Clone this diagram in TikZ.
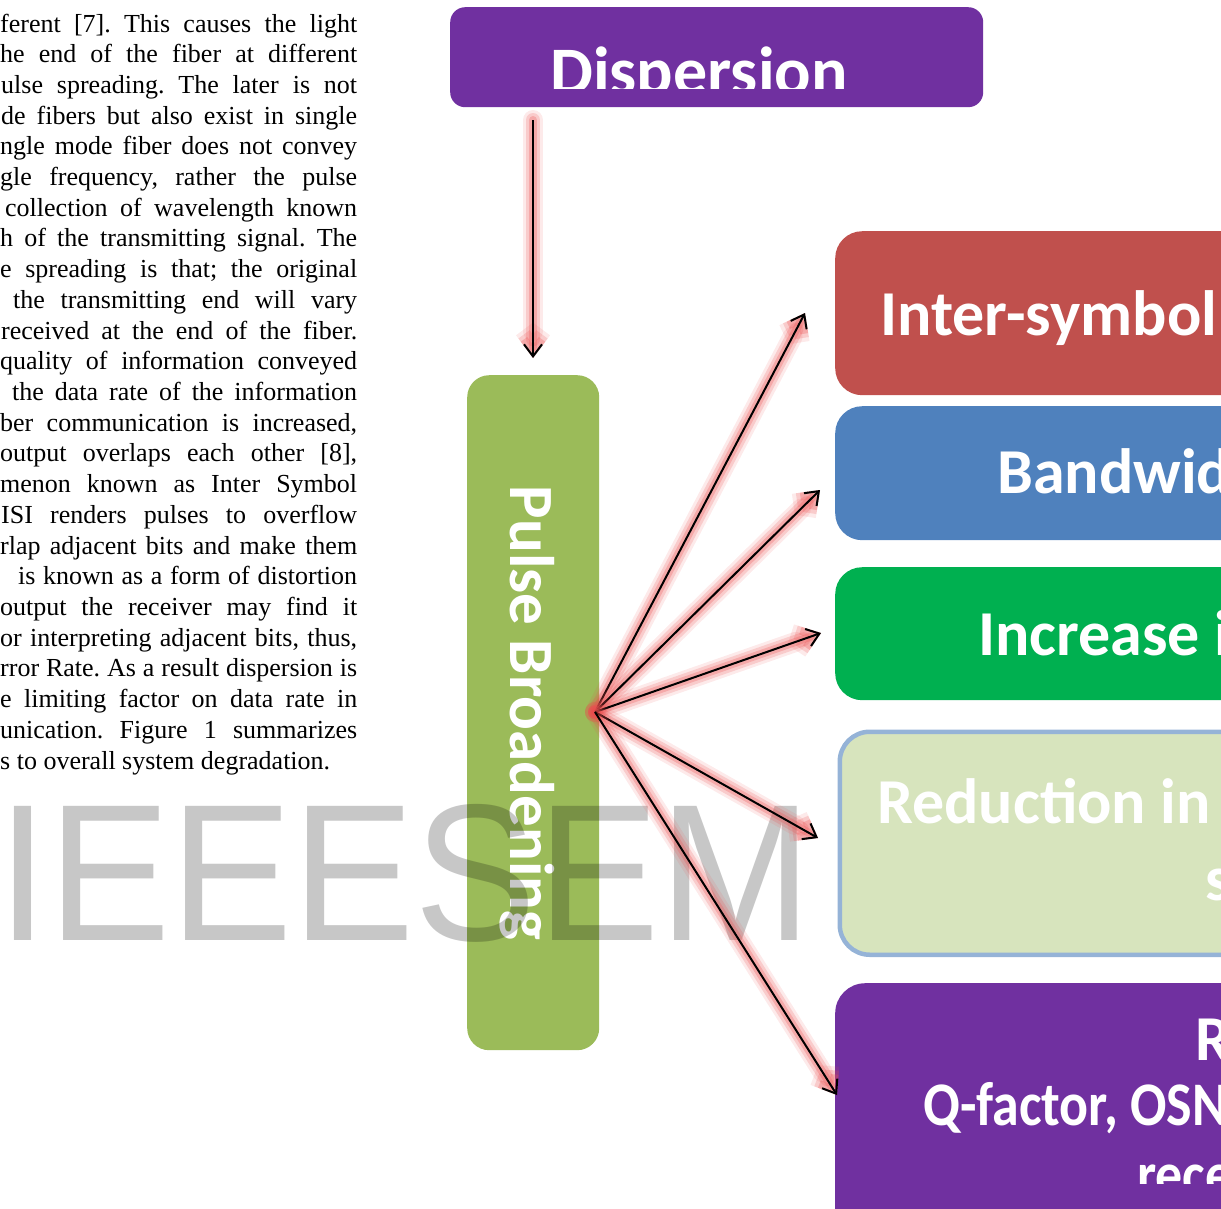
\documentclass[tikz,border=0pt]{standalone}
\usepackage{fontspec}
\setmainfont{Liberation Serif}
\newfontfamily\boxfont{Carlito}
\newfontfamily\wmfont{Liberation Sans}
\usetikzlibrary{arrows.meta}
\definecolor{dispc}{RGB}{112,48,160}
\definecolor{pulsec}{RGB}{155,187,89}
\definecolor{isic}{RGB}{192,80,77}
\definecolor{bwc}{RGB}{79,129,189}
\definecolor{incc}{RGB}{0,176,80}
\definecolor{redc}{RGB}{215,228,189}
\definecolor{redbord}{RGB}{149,179,215}
\definecolor{glowc}{RGB}{235,80,80}
\frenchspacing
\newcommand\bodyline[4]{\node[body] (#1) at (#2,{32+30.71*#3}) {\makebox[\dimexpr357pt-#2pt\relax][s]{#4}};}
\begin{document}
\begin{tikzpicture}[x=1pt,y=-1pt,
  body/.style={anchor=base west, inner sep=0pt, font=\fontsize{26}{30.7}\selectfont},
  boxshape/.style={anchor=north west, inner sep=0pt, draw=none},
  boxtext/.style={text=white, inner sep=0pt, anchor=base west, font=\boxfont\bfseries\fontsize{64}{70}\selectfont},
  glow/.style={
    preaction={draw=glowc, line width=20pt, opacity=0.12, line cap=round, line join=round},
    preaction={draw=glowc, line width=14pt, opacity=0.20, line cap=round, line join=round},
    preaction={draw=glowc, line width=8pt, opacity=0.28, line cap=round, line join=round}},
  arr/.style={glow, draw=black, line width=2pt, -{Straight Barb[length=12pt,width=18pt]}},
  wm/.style={anchor=base west, inner sep=0pt, text=black, text opacity=0.22, font=\wmfont\fontsize{195}{200}\selectfont}
]
\useasboundingbox (0,0) rectangle (1221,1208);
\clip (0,0) rectangle (1221,1208);

% body text
\bodyline{l1}{0}{0}{ferent [7]. This causes the light}
\bodyline{l2}{0}{1}{he end of the fiber at different}
\bodyline{l3}{1}{2}{ulse spreading. The later is not}
\bodyline{l4}{1}{3}{de fibers but also exist in single}
\bodyline{l5}{0}{4}{ngle mode fiber does not convey}
\bodyline{l6}{0}{5}{gle frequency, rather the pulse}
\bodyline{l7}{5}{6}{collection of wavelength known}
\bodyline{l8}{0}{7}{h of the transmitting signal. The}
\bodyline{l9}{0}{8}{e spreading is that; the original}
\bodyline{l10}{13}{9}{the transmitting end will vary}
\bodyline{l11}{1}{10}{received at the end of the fiber.}
\bodyline{l12}{0}{11}{quality of information conveyed}
\bodyline{l13}{12}{12}{the data rate of the information}
\bodyline{l14}{0}{13}{ber communication is increased,}
\bodyline{l15}{0}{14}{output overlaps each other [8],}
\bodyline{l16}{0}{15}{menon known as Inter Symbol}
\bodyline{l17}{1}{16}{ISI renders pulses to overflow}
\bodyline{l18}{0}{17}{rlap adjacent bits and make them}
\bodyline{l19}{18}{18}{is known as a form of distortion}
\bodyline{l20}{0}{19}{output the receiver may find it}
\bodyline{l21}{0}{20}{or interpreting adjacent bits, thus,}
\bodyline{l22}{0}{21}{rror Rate. As a result dispersion is}
\bodyline{l23}{0}{22}{e limiting factor on data rate in}
\bodyline{l24}{0}{23}{unication. Figure 1 summarizes}
\node[body] (l25) at (0,{32+30.71*24}) {s to overall system degradation.};

% boxes
\node[boxshape, fill=dispc, rounded corners=15pt, minimum width=533pt, minimum height=100pt] (disp) at (450,7) {};
\node[boxshape, fill=pulsec, rounded corners=22pt, minimum width=132pt, minimum height=675pt] (pulse) at (467,375) {};
\node[boxshape, fill=isic, rounded corners=27pt, minimum width=500pt, minimum height=164pt] (isi) at (835,231) {};
\node[boxshape, fill=bwc, rounded corners=27pt, minimum width=500pt, minimum height=134pt] (bw) at (835,406) {};
\node[boxshape, fill=incc, rounded corners=27pt, minimum width=500pt, minimum height=133pt] (inc) at (835,567) {};
\node[boxshape, fill=redc, draw=redbord, line width=4.5pt, rounded corners=30pt, minimum width=500pt, minimum height=223pt] (red) at (837.5,729.5) {};
\node[boxshape, fill=dispc, rounded corners=30pt, minimum width=500pt, minimum height=300pt] (qf) at (835,983) {};

% box texts
\begin{scope}
  \clip (450,0) rectangle (983,88);
  \node[boxtext, anchor=base, font=\boxfont\bfseries\fontsize{68}{70}\selectfont] (dispt) at (699,94) {Dispersion};
\end{scope}
\node[rotate=-90, text=white, inner sep=0pt, font=\boxfont\bfseries\fontsize{63}{70}\selectfont] (pulset) at (527,713) {Pulse Broadening};
\node[boxtext] (isit) at (880,335) {Inter-symbol};
\node[boxtext] (bwt) at (997,493) {Bandwid};
\node[boxtext] (inct) at (978,655) {Increase i};
\node[boxtext] (redt1) at (877,823) {Reduction in};
\node[boxtext] (redt2) at (1205,900) {s};
\node[boxtext] (qft1) at (1195,1060) {R};
\node[boxtext, xscale=0.87, font=\boxfont\bfseries\fontsize{62}{66}\selectfont] (qft2) at (923,1125) {Q-factor, OSN};
\begin{scope}
  \clip (835,983) rectangle (1221,1183);
  \node[boxtext, xscale=0.87, font=\boxfont\bfseries\fontsize{62}{66}\selectfont] (qft3) at (1137,1195) {rece};
\end{scope}

% watermark
\node[wm, xscale=0.94] (wmk) at (-3,940) {IEEESEM};

% connectors
\coordinate (dtop) at (533,120);
\coordinate (dbot) at (533,358);
\coordinate (o) at (595,712);
\coordinate (t1) at (805,313);
\coordinate (t2) at (820,490);
\coordinate (t3) at (821,633);
\coordinate (t4) at (818,838);
\coordinate (t5) at (837,1095);
\draw[arr] (dtop) -- (dbot);
\fill[glowc, opacity=0.5] (o) circle (6pt);
\fill[red, opacity=0.45] (o) circle (3.5pt);
\draw[arr] (o) -- (t1);
\draw[arr] (o) -- (t2);
\draw[arr] (o) -- (t3);
\draw[arr] (o) -- (t4);
\draw[arr] (o) -- (t5);
\end{tikzpicture}
\end{document}
